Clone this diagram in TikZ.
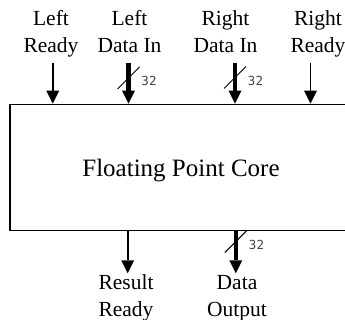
\documentclass[tikz,border=0pt]{standalone}
\usepackage{fontspec}
\setmainfont{Liberation Serif}
\newfontfamily\busfont{DejaVu Sans Mono}
\usetikzlibrary{arrows.meta}
\definecolor{buslabel}{HTML}{444444}

\tikzset{
  x=1pt, y=-1pt,
  corebox/.style={draw, line width=1.3pt, inner sep=0pt, minimum width=360pt, minimum height=126.2pt},
  portlabel/.style={align=center, inner sep=0pt, font=\fontsize{21.5}{26.5}\selectfont},
  ctrl/.style={line width=1.6pt, -{Triangle[length=13pt, width=13pt, line width=0pt]}},
  bus/.style={line width=4.6pt, -{Triangle[length=13pt, width=13pt, line width=0pt]}},
  buswidth/.style={font=\busfont\fontsize{12.5}{12.5}\selectfont, text=buslabel, inner sep=0pt},
}

\begin{document}
\begin{tikzpicture}
  \useasboundingbox (0,0) rectangle (345,320);
  \clip (0,0) rectangle (345,320);

  % the core block (its right side runs past the page edge)
  \node[corebox] (core) at (190,167.4) {};
  \node[font=\fontsize{25}{29}\selectfont, anchor=base] (title) at (181,177) {Floating Point Core};

  % port labels above the block (anchored on the baseline of the last line)
  \node[portlabel, anchor=base] (lrdy) at (51,52.5) {Left\\Ready};
  \node[portlabel, anchor=base] (ldat) at (129.5,52.5) {Left\\Data In};
  \node[portlabel, anchor=base] (rdat) at (225.5,52.5) {Right\\Data In};
  \node[portlabel, anchor=base] (rrdy) at (318,52.5) {Right\\Ready};

  % port labels below the block
  \node[portlabel, anchor=base] (resr) at (126,316) {Result\\Ready};
  \node[portlabel, anchor=base] (dout) at (237,316) {Data\\Output};

  % free ends of the input connectors
  \coordinate (lrdyin) at (52.7,62.7);
  \coordinate (ldatin) at (128.5,62.7);
  \coordinate (rdatin) at (235,62.7);
  \coordinate (rrdyin) at (310.5,62.7);
  % free ends of the output connectors
  \coordinate (resrout) at (127.7,273.3);
  \coordinate (doutout) at (235.8,273.3);

  % inputs
  \draw[ctrl] (lrdyin) -- (lrdyin |- core.north);
  \draw[bus]  (ldatin) -- (ldatin |- core.north);
  \draw[bus]  (rdatin) -- (rdatin |- core.north);
  \draw[ctrl] (rrdyin) -- (rrdyin |- core.north);
  % outputs
  \draw[ctrl] (resrout |- core.south) -- (resrout);
  \draw[bus]  (doutout |- core.south) -- (doutout);

  % bus width marks
  \draw[line width=1pt] (117.5,89) -- (139.5,67);
  \node[buswidth] (w1) at (149,80.5) {32};
  \draw[line width=1pt] (224,88.5) -- (246,66.5);
  \node[buswidth] (w2) at (255.5,80.5) {32};
  \draw[line width=1pt] (224.8,252.5) -- (246.8,230.5);
  \node[buswidth] (w3) at (256.5,245) {32};
\end{tikzpicture}
\end{document}
